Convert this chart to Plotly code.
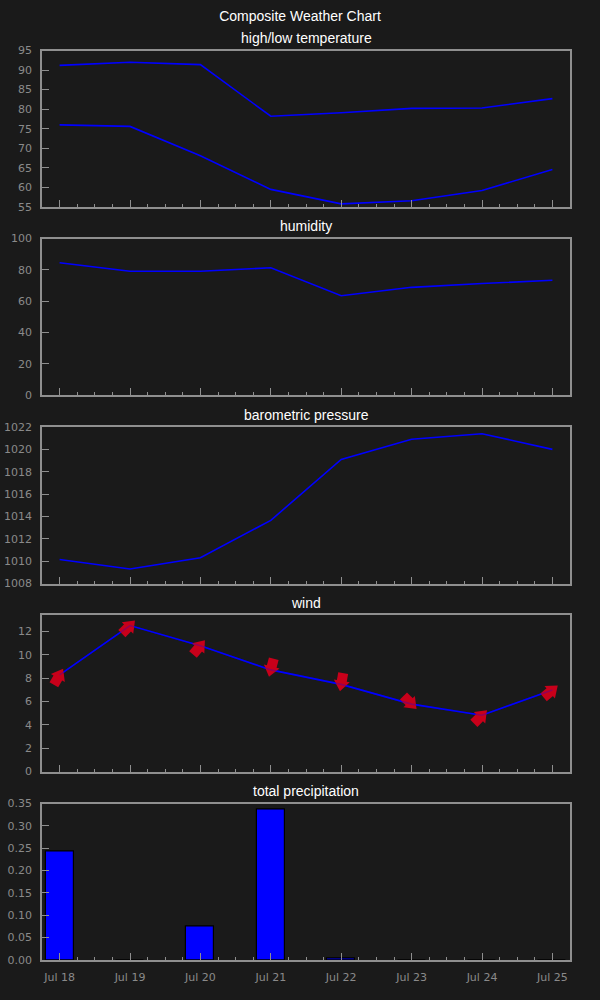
import plotly.graph_objects as go
from plotly.subplots import make_subplots

dates = ["2013-07-18", "2013-07-19", "2013-07-20", "2013-07-21",
         "2013-07-22", "2013-07-23", "2013-07-24", "2013-07-25"]
temp_high = [91.2, 92.0, 91.4, 78.2, 79.1, 80.2, 80.3, 82.7]
temp_low = [76.0, 75.6, 68.1, 59.5, 55.8, 56.6, 59.2, 64.6]
humidity = [84.5, 79.1, 79.1, 81.3, 63.4, 68.8, 71.2, 73.3]
pressure = [1010.15, 1009.3, 1010.3, 1013.65, 1019.1, 1020.9, 1021.4, 1020.0]
wind_speed = [8.27, 12.5, 10.77, 8.7, 7.46, 5.77, 4.82, 6.98]
wind_dir = [30, 45, 40, 195, 190, 135, 45, 50]
precip = [0.243, 0.0, 0.075, 0.337, 0.003, 0.0, 0.0, 0.0]

titles = ["high/low temperature", "humidity", "barometric pressure", "wind", "total precipitation"]

BG = "#1a1a1a"
BOX = "#8f8f8f"
TICKC = "#8a8a8a"
BLUE = "#0000ff"
RED = "#c8001a"
DAY = 86400000

W, H = 600, 1000
mt, mb = 50, 40
tops = [50.5, 238.5, 427, 615, 803.5]
bots = [207, 395, 583.5, 771.5, 960]
ph = H - mt - mb

fig = make_subplots(rows=5, cols=1, shared_xaxes=True)

fig.add_trace(go.Scatter(x=dates, y=temp_high, mode="lines", line=dict(color=BLUE, width=1.6)), row=1, col=1)
fig.add_trace(go.Scatter(x=dates, y=temp_low, mode="lines", line=dict(color=BLUE, width=1.6)), row=1, col=1)
fig.add_trace(go.Scatter(x=dates, y=humidity, mode="lines", line=dict(color=BLUE, width=1.6)), row=2, col=1)
fig.add_trace(go.Scatter(x=dates, y=pressure, mode="lines", line=dict(color=BLUE, width=1.6)), row=3, col=1)
fig.add_trace(go.Scatter(x=dates, y=wind_speed, mode="lines", line=dict(color=BLUE, width=1.6)), row=4, col=1)
# arrow shaft
fig.add_trace(go.Scatter(x=dates, y=wind_speed, mode="markers",
                         marker=dict(symbol="square", size=10, color=RED, angle=wind_dir,
                                     standoff=6.5, line=dict(width=0))), row=4, col=1)
# arrow head
fig.add_trace(go.Scatter(x=dates, y=wind_speed, mode="markers",
                         marker=dict(symbol="triangle-up", size=14, color=RED, angle=wind_dir,
                                     line=dict(width=0))), row=4, col=1)
# line visible faintly through the arrows
fig.add_trace(go.Scatter(x=dates, y=wind_speed, mode="lines", opacity=0.25,
                         line=dict(color=BLUE, width=1.6)), row=4, col=1)
fig.add_trace(go.Bar(x=dates, y=precip, width=0.4 * DAY,
                     marker=dict(color=BLUE, line=dict(color="#000000", width=1.2))), row=5, col=1)

yranges = [[55, 95], [0, 100], [1008, 1022], [0, 13.4], [0, 0.35]]
ydticks = [5, 20, 2, 2, 0.05]
yfmts = ["", "", "", "", ".2f"]

for i in range(5):
    r = i + 1
    dom = [(H - mb - bots[i]) / ph, (H - mb - tops[i]) / ph]
    fig.update_yaxes(row=r, col=1, domain=dom, range=yranges[i], dtick=ydticks[i],
                     tickformat=yfmts[i], showgrid=False, zeroline=False, automargin=False,
                     showline=True, mirror=True, linecolor=BOX, linewidth=1.5,
                     ticks="inside", ticklen=7, tickcolor=BOX, tickwidth=1,
                     tickfont=dict(family="DejaVu Sans", size=11, color=TICKC),
                     ticklabelstandoff=6)
    fig.update_xaxes(row=r, col=1, type="date", automargin=False,
                     range=["2013-07-17 18:00", "2013-07-25 06:00"],
                     tick0="2013-07-18", dtick=DAY, tickformat="%b %d",
                     showgrid=False, zeroline=False,
                     showline=True, mirror=True, linecolor=BOX, linewidth=1.5,
                     ticks="inside", ticklen=7, tickcolor=BOX, tickwidth=1,
                     minor=dict(dtick=DAY / 4, ticks="inside", ticklen=3, tickcolor=BOX, showgrid=False),
                     tickfont=dict(family="DejaVu Sans", size=11, color=TICKC),
                     ticklabelstandoff=6)
    fig.add_annotation(text=titles[i], xref="paper", x=0.5, yref="paper",
                       y=(H - mb - (tops[i] - 12.5)) / ph, xanchor="center", yanchor="middle",
                       showarrow=False, font=dict(family="Liberation Sans", size=14, color="#ffffff"))

fig.update_layout(
    width=W, height=H,
    margin=dict(l=42, r=30, t=mt, b=mb),
    paper_bgcolor=BG, plot_bgcolor=BG,
    showlegend=False,
    bargap=0,
    title=dict(text="Composite Weather Chart", x=0.5, xanchor="center", y=1 - 16 / H, yanchor="middle",
               font=dict(family="Liberation Sans", size=14, color="#ffffff")),
)

fig.write_html("out.html", config={"displayModeBar": False},
               post_script="document.body.style.margin='0';document.body.style.background='#1a1a1a';")
